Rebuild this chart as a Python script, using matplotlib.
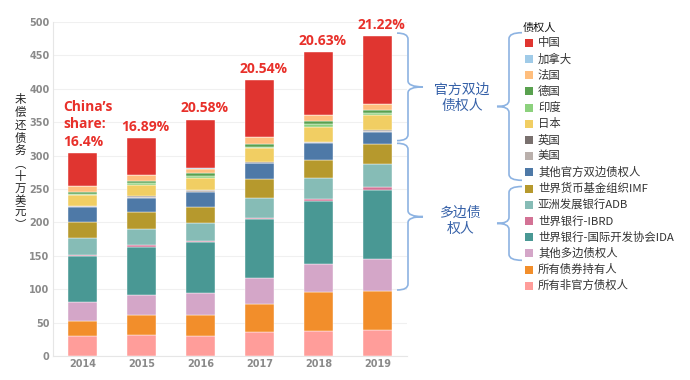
#!/usr/bin/env python3
"""Outstanding debt by creditor, 2014-2019 (stacked bars)"""
import matplotlib.pyplot as plt
import numpy as np
from matplotlib.path import Path
from matplotlib.patches import PathPatch, Rectangle
from matplotlib.transforms import Affine2D

plt.rcParams['font.family'] = ['Noto Sans CJK SC', 'DejaVu Sans']

years = ['2014', '2015', '2016', '2017', '2018', '2019']

# creditors in legend order (top of stack first)
creditors = ['中国', '加拿大', '法国', '德国', '印度', '日本', '英国', '美国',
             '其他官方双边债权人', '世界货币基金组织IMF', '亚洲发展银行ADB',
             '世界银行-IBRD', '世界银行-国际开发协会IDA', '其他多边债权人',
             '所有债券持有人', '所有非官方债权人']
colors = ['#E03530', '#A0CBE8', '#FFBE7D', '#59A14F', '#8CD17D', '#F1CE63',
          '#79706E', '#BAB0AC', '#4E79A7', '#B6992D', '#86BCB6', '#D37295',
          '#499894', '#D4A6C8', '#F28E2B', '#FF9D9A']

# values (hundred-thousand USD), same order as creditors
china    = [49.9, 55.1, 72.8, 84.7, 93.8, 101.7]
canada   = [0.5, 0.5, 0.5, 0.5, 0.5, 0.5]
france   = [8.5, 8.0, 7.0, 9.9, 8.5, 8.9]
germany  = [2.5, 3.5, 3.5, 4.0, 4.5, 4.0]
india    = [2.5, 2.5, 3.0, 2.4, 4.0, 3.5]
japan    = [15.5, 17.0, 18.0, 20.6, 22.3, 22.5]
uk       = [0.9, 1.0, 1.2, 0.8, 0.8, 1.0]
usa      = [1.3, 1.5, 1.8, 1.2, 1.3, 1.5]
other_bi = [22.0, 22.0, 22.5, 23.9, 25.5, 18.4]
imf      = [23.6, 24.4, 24.5, 27.5, 26.4, 29.4]
adb      = [25.3, 24.9, 27.0, 30.0, 32.0, 34.5]
ibrd     = [1.5, 2.0, 2.0, 2.0, 3.0, 4.5]
ida      = [68.9, 72.7, 76.0, 88.2, 93.8, 103.8]
other_mu = [28.9, 30.0, 32.0, 39.0, 41.9, 47.4]
bonds    = [22.4, 29.0, 31.6, 42.4, 58.9, 59.4]
private  = [30.0, 32.0, 30.4, 35.4, 37.4, 38.4]

series = [china, canada, france, germany, india, japan, uk, usa, other_bi,
          imf, adb, ibrd, ida, other_mu, bonds, private]

share_labels = ['China’s\nshare:\n16.4%', '16.89%', '20.58%', '20.54%',
                '20.63%', '21.22%']

W, H = 690, 380
fig = plt.figure(figsize=(W / 100, H / 100), dpi=100)
ax = fig.add_axes([53 / W, 1 - 356 / H, 354 / W, 334 / H])
px = Affine2D().scale(1 / W, -1 / H).translate(0, 1) + fig.transFigure

x = np.arange(len(years))
bottom = np.zeros(len(years))
tops = {}
for name, col, vals in reversed(list(zip(creditors, colors, series))):
    v = np.array(vals)
    ax.bar(x, v, 0.475, bottom=bottom, color=col, edgecolor='white',
           linewidth=0.3)
    bottom = bottom + v
    tops[name] = bottom.copy()
total = bottom

# China share labels
red = '#E8302A'
for i, lab in enumerate(share_labels):
    if i == 0:
        ax.annotate(lab, (x[i] - 0.33, total[i]), xytext=(0, 3),
                    textcoords='offset points', ha='left', va='bottom',
                    color=red, fontsize=10, fontweight='bold',
                    family='Open Sans', linespacing=1.32)
    else:
        ax.annotate(lab, (x[i] + 0.07, total[i]), xytext=(0, 3),
                    textcoords='offset points', ha='center', va='bottom',
                    color=red, fontsize=10, fontweight='bold',
                    family='Open Sans')

ax.set_xlim(-0.5, 5.5)
ax.set_ylim(0, 500)
ax.set_xticks(x)
ax.set_xticklabels(years)
ax.set_yticks(np.arange(0, 501, 50))
ax.tick_params(length=0, labelsize=7, labelcolor='#8a8a8a', pad=2.5)
for lab in ax.get_xticklabels() + ax.get_yticklabels():
    lab.set_family('DejaVu Sans')
    lab.set_fontweight('bold')
ax.yaxis.grid(True, color='#f0f0f0', lw=0.8)
ax.set_axisbelow(True)
for s in ['top', 'right']:
    ax.spines[s].set_visible(False)
for s in ['left', 'bottom']:
    ax.spines[s].set_color('#e6e6e6')
    ax.spines[s].set_linewidth(0.8)

# vertical y-axis title, one character per line
ylab = '未偿还债务︵十万美元︶'
fig.text(20, 162, '\n'.join(ylab), transform=px, ha='center', va='center',
         fontsize=8.2, color='#222222', linespacing=1.22)


def brace(tr, x_end, x_spine, x_tip, y0, y1, r, ym=None):
    if ym is None:
        ym = (y0 + y1) / 2
    s = 1 if y1 > y0 else -1
    verts = [(x_end, y1), (x_spine, y1), (x_spine, y1 - s * r),
             (x_spine, ym + s * r), (x_spine, ym), (x_tip, ym),
             (x_spine, ym), (x_spine, ym - s * r),
             (x_spine, y0 + s * r), (x_spine, y0), (x_end, y0)]
    codes = [Path.MOVETO, Path.CURVE3, Path.CURVE3, Path.LINETO,
             Path.CURVE3, Path.CURVE3, Path.CURVE3, Path.CURVE3,
             Path.LINETO, Path.CURVE3, Path.CURVE3]
    fig.add_artist(PathPatch(Path(verts, codes), transform=tr, fill=False,
                             edgecolor='#8DB3E2', lw=1.2, clip_on=False))


# braces next to the 2019 bar (data coords)
bx = lambda p: (p - 53) / 59 - 0.5
brace(ax.transData, bx(397), bx(408), bx(423),
      tops['世界货币基金组织IMF'][-1] + 5, total[-1] + 4, 9)
brace(ax.transData, bx(397), bx(408), bx(423),
      tops['所有债券持有人'][-1] + 1, tops['世界货币基金组织IMF'][-1] + 1, 9)

grp_blue = '#3661A8'
fig.text(462, 98, '官方双边\n债权人', transform=px, ha='center', va='center',
         fontsize=10, color=grp_blue, linespacing=1.15)
fig.text(461, 221, '多边债\n权人', transform=px, ha='center', va='center',
         fontsize=10, color=grp_blue, linespacing=1.15)

# legend
row0, step = 42.7, 16.2
fig.text(523, 28, '债权人', transform=px, ha='left', va='center',
         fontsize=8, color='#111111')
for k, (name, col) in enumerate(zip(creditors, colors)):
    yy = row0 + k * step
    fig.add_artist(Rectangle((525, yy - 4), 8, 8, transform=px,
                             facecolor=col, edgecolor='none'))
    fig.text(538, yy, name, transform=px, ha='left', va='center',
             fontsize=8.2, color='#333333')

# braces in front of the legend groups
brace(px, 522, 509, 497, row0 + 8 * step + 8, row0 - 10, 6)
brace(px, 522, 509, 497, row0 + 13 * step + 7, row0 + 9 * step - 2, 6)

fig.savefig('out.png', dpi=100)
print('Saved: out.png')
